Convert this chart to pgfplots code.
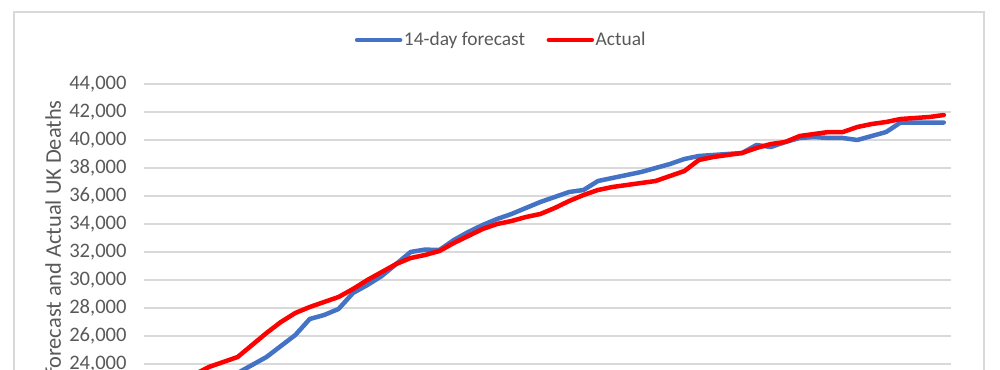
\documentclass[border=0pt]{standalone}
\usepackage{pgfplots}
\pgfplotsset{compat=1.18}
\usepackage{fontspec}
\setmainfont{Carlito}
\definecolor{txt}{HTML}{595959}
\definecolor{gridc}{HTML}{D9D9D9}
\definecolor{fc}{HTML}{4472C4}
\definecolor{act}{HTML}{FF0000}
\newcommand{\cfont}{\fontsize{9.7}{11.6}\selectfont}
\newcommand{\tfont}{\fontsize{10.3}{12.4}\selectfont}
\newcommand{\lfont}{\fontsize{11.2}{13.4}\selectfont}
\begin{document}
\begin{tikzpicture}
\path[use as bounding box] (0,0) rectangle (500pt,-184.5pt);
\clip (0,0) rectangle (500pt,-184.5pt);
\draw[gridc, line width=0.6pt] (7pt,-6pt) rectangle (492pt,-300pt);
\begin{axis}[
  at={(72pt,-224pt)}, anchor=south west,
  scale only axis, width=403.5pt, height=182pt,
  xmin=-0.5, xmax=55.5, ymin=18000, ymax=44000,
  ytick={18000,20000,...,44000},
  xtick=\empty,
  ymajorgrids, grid style={gridc, line width=0.75pt},
  axis line style={draw=none},
  major tick length=0pt,
  scaled y ticks=false,
  /pgf/number format/.cd, 1000 sep={,}, assume math mode=true,
  /pgfplots/.cd,
  yticklabel style={font=\tfont, text=txt, inner sep=0pt, anchor=east, xshift=-8.5pt},
  ylabel={14-day forecast and Actual UK Deaths},
  every axis y label/.style={at={(rel axis cs:-0.1103,0.956)}, rotate=90, anchor=east, inner sep=0pt, font=\lfont, text=txt},
  legend columns=2,
  legend style={draw=none, fill=none, at={(rel axis cs:0.4424,1.1209)}, anchor=center, font=\cfont, text=txt,
    /tikz/every even column/.append style={column sep=10pt}, nodes={inner sep=0.8pt}},
  legend image code/.code={\draw[#1] (0pt,0pt) -- (21.5pt,0pt);},
  every axis plot/.append style={line width=2.25pt, line cap=round, line join=round},
]
\addplot[color=fc] coordinates {
(6,23357)(7,23929)(8,24500)(9,25286)(10,26071)(11,27214)(12,27500)(13,27929)(14,29071)(15,29643)(16,30286)(17,31143)(18,32000)(19,32171)(20,32143)(21,32857)(22,33429)(23,33929)(24,34357)(25,34714)(26,35143)(27,35571)(28,35929)(29,36286)(30,36429)(31,37071)(32,37286)(33,37500)(34,37714)(35,38000)(36,38286)(37,38643)(38,38857)(39,38929)(40,39000)(41,39071)(42,39643)(43,39500)(44,39857)(45,40143)(46,40214)(47,40143)(48,40143)(49,40000)(50,40286)(51,40571)(52,41250)(53,41250)(54,41250)(55,41250)
};
\addlegendentry{14-day forecast}
\addplot[color=act] coordinates {
(3,23250)(4,23786)(5,24143)(6,24500)(7,25357)(8,26214)(9,27000)(10,27643)(11,28071)(12,28429)(13,28786)(14,29357)(15,30000)(16,30571)(17,31143)(18,31571)(19,31786)(20,32071)(21,32643)(22,33143)(23,33643)(24,34000)(25,34214)(26,34500)(27,34714)(28,35143)(29,35643)(30,36071)(31,36429)(32,36643)(33,36786)(34,36929)(35,37071)(36,37429)(37,37786)(38,38571)(39,38786)(40,38929)(41,39071)(42,39429)(43,39714)(44,39857)(45,40286)(46,40429)(47,40571)(48,40571)(49,40929)(50,41143)(51,41286)(52,41500)(53,41571)(54,41643)(55,41786)
};
\addlegendentry{Actual}
\end{axis}
\end{tikzpicture}
\end{document}
